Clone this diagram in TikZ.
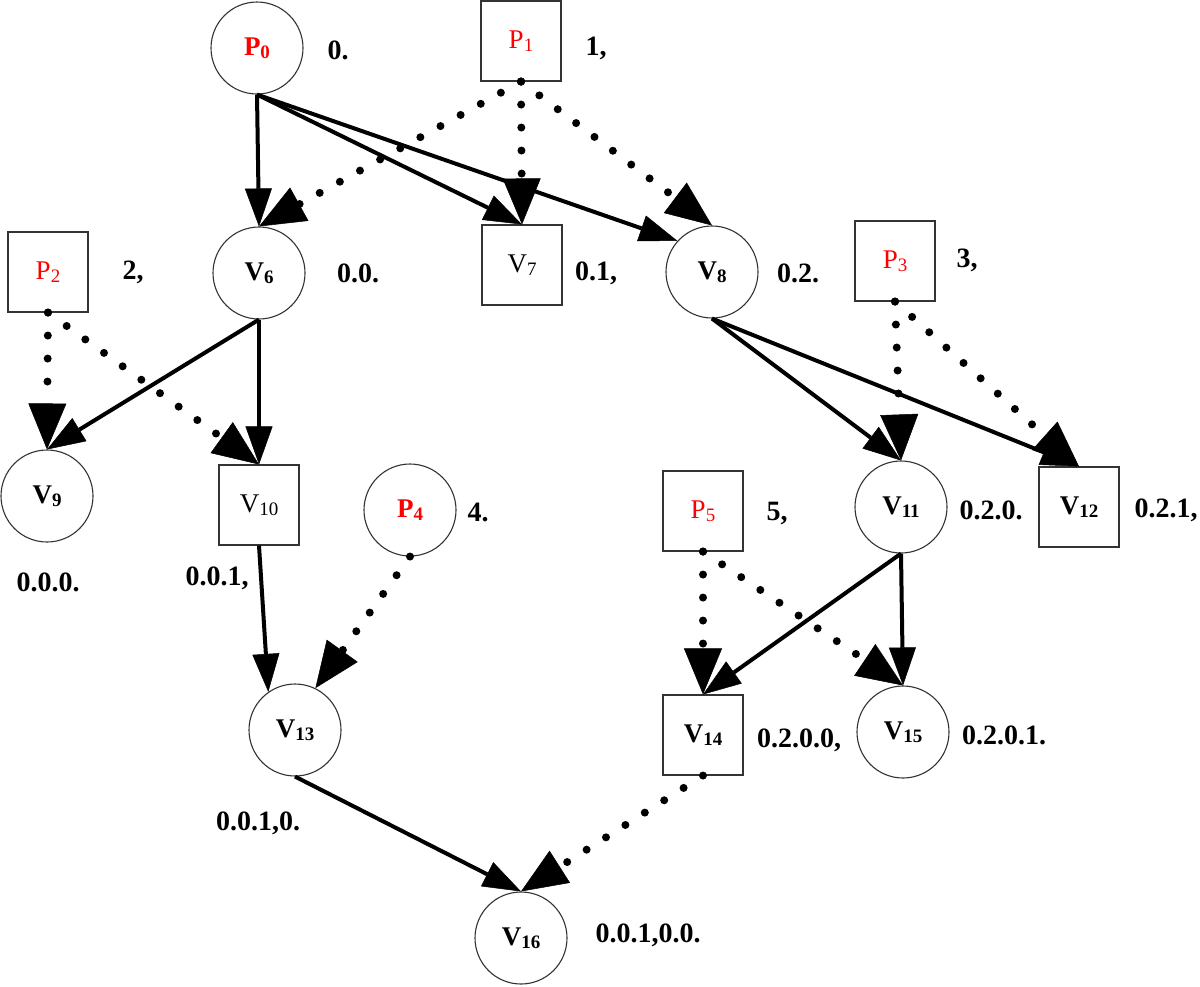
\documentclass[tikz,border=0pt]{standalone}
\usepackage{fontspec}
\setmainfont{Liberation Serif}
\usetikzlibrary{arrows.meta}
\newcommand\sbs[1]{\raisebox{-3pt}{\fontsize{19}{19}\selectfont #1}}
\begin{document}
\begin{tikzpicture}[x=1pt,y=-1pt,
  cnode/.style={draw=black!80,line width=1.1pt,circle,minimum size=92pt,inner sep=0pt,font=\fontsize{27}{30}\selectfont},
  bnode/.style={draw=black!80,line width=1.1pt,rectangle,minimum size=80pt,inner sep=0pt,font=\fontsize{27}{30}\selectfont},
  bold/.style={font=\fontsize{27}{30}\selectfont\bfseries},
  redtxt/.style={text=red},
  num/.style={font=\fontsize{28}{30}\selectfont\bfseries,inner sep=0pt},
  sol/.style={line width=4pt,-{Triangle[length=38pt,width=27pt,line width=0.5pt]}},
  dotl/.style={line width=8pt,line cap=round,dash pattern=on 0pt off 23pt,-{Triangle[length=46pt,width=38pt,line width=0.5pt]}},
]
\useasboundingbox (0,0) rectangle (1200,986);
% nodes
\node[cnode,bold,redtxt] (P0) at (257,48) {P\sbs{0}};
\node[bnode,redtxt] (P1) at (521,41) {P\sbs{1}};
\node[cnode,bold] (V6) at (259,273) {V\sbs{6}};
\node[bnode] (V7) at (522,265) {V\sbs{7}};
\node[cnode,bold] (V8) at (712,272) {V\sbs{8}};
\node[bnode,redtxt] (P2) at (48,272) {P\sbs{2}};
\node[bnode,redtxt] (P3) at (895,261) {P\sbs{3}};
\node[cnode,bold] (V9) at (47,496) {V\sbs{9}};
\node[bnode] (V10) at (259,505) {V\sbs{10}};
\node[cnode,bold,redtxt] (P4) at (410,510) {P\sbs{4}};
\node[bnode,redtxt] (P5) at (703,511) {P\sbs{5}};
\node[cnode,bold] (V11) at (901,507) {V\sbs{11}};
\node[bnode,bold] (V12) at (1079,507) {V\sbs{12}};
\node[cnode,bold] (V13) at (295,730) {V\sbs{13}};
\node[bnode,bold] (V14) at (703,735) {V\sbs{14}};
\node[cnode,bold] (V15) at (903,732) {V\sbs{15}};
\node[cnode,bold] (V16) at (521,938) {V\sbs{16}};
% numbering labels
\node[num] (t0) at (338,50) {0.};
\node[num] (t1) at (596,48) {1,};
\node[num] (t6) at (358,273) {0.0.};
\node[num] (t7) at (596,273) {0.1,};
\node[num] (t8) at (798,273) {0.2.};
\node[num] (t2) at (133,272) {2,};
\node[num] (t3) at (967,260) {3,};
\node[num] (t9) at (48,582) {0.0.0.};
\node[num] (t10) at (217,578) {0.0.1,};
\node[num] (t4) at (478,512) {4.};
\node[num] (t5) at (777,513) {5,};
\node[num] (t11) at (991,510) {0.2.0.};
\node[num] (t12) at (1166,510) {0.2.1,};
\node[num] (t13) at (258,823) {0.0.1,0.};
\node[num] (t14) at (799,740) {0.2.0.0,};
\node[num] (t15) at (1004,735) {0.2.0.1.};
\node[num] (t16) at (648,935) {0.0.1,0.0.};
% edges
\draw[sol] (P0.south) -- (V6.north);
\draw[sol] (P0.south) -- (V7.north);
\draw[sol] (P0.south) -- (V8.138);
\draw[dotl] (P1.south) -- (V6.north);
\draw[dotl] (P1.south) -- (V7.north);
\draw[dotl] (P1.south) -- (V8.north);
\draw[sol] (V6.south) -- (V9.north);
\draw[sol] (V6.south) -- (V10.north);
\draw[dotl] (P2.south) -- (V9.north);
\draw[dotl] (P2.south) -- (V10.north);
\draw[sol] (V8.south) -- (V11.north);
\draw[sol] (V8.south) -- (V12.north);
\draw[dotl] (P3.south) -- (V11.north);
\draw[dotl] (P3.south) -- (V12.north);
\draw[sol] (V10.south) -- (V13.125);
\draw[dotl] (P4.south) -- (V13.64);
\draw[sol] (V11.south) -- (V14.north);
\draw[sol] (V11.south) -- (V15.north);
\draw[dotl] (P5.south) -- (V14.north);
\draw[dotl] (P5.south) -- (V15.north);
\draw[sol] (V13.south) -- (V16.north);
\draw[dotl] (V14.south) -- (V16.north);
\end{tikzpicture}
\end{document}
